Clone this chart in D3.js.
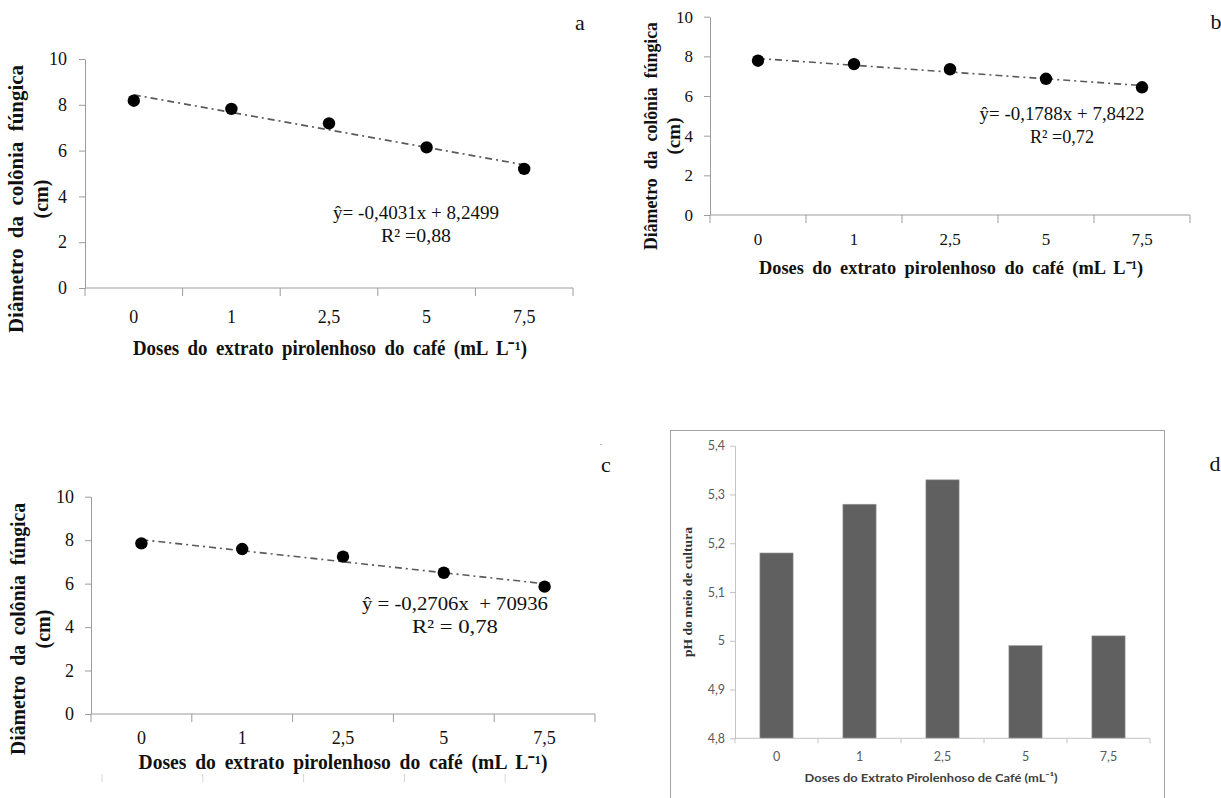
<!DOCTYPE html>
<html>
<head>
<meta charset="utf-8">
<script src="https://cdn.jsdelivr.net/npm/d3@7"></script>
<style>
  body { margin: 0; background: #fff; }
  svg { display: block; }
</style>
</head>
<body>
<div id="chart"></div>
<script>
// doses of coffee pyroligneous extract (mL L-1)
const doses = ['0', '1', '2,5', '5', '7,5']
// fungal colony diameter (cm), panels a, b, c
const diamA = [8.18, 7.82, 7.19, 6.14, 5.2]
const diamB = [7.78, 7.61, 7.35, 6.87, 6.44]
const diamC = [7.85, 7.59, 7.24, 6.5, 5.86]
const yTicksDiam = [0, 2, 4, 6, 8, 10]
// pH of the culture medium, panel d
const phD = [5.18, 5.28, 5.33, 4.99, 5.01]
const yTicksPh = [4.8, 4.9, 5, 5.1, 5.2, 5.3, 5.4]
// regression labels as printed
const eqA = ['ŷ= -0,4031x + 8,2499', 'R² =0,88']
const eqB = ['ŷ= -0,1788x + 7,8422', 'R² =0,72']
const eqC = ['ŷ = -0,2706x  + 70936', 'R² = 0,78']

const serif = '"Liberation Serif", "Times New Roman", serif'
const sans = 'Lato, "Open Sans", sans-serif'
const comma = d => String(d).replace('.', ',')

const svg = d3.select('#chart').append('svg')
  .attr('width', 1221)
  .attr('height', 798)

function scatterPanel(values, eq, o) {
  const x = d3.scaleBand().domain(doses).range([o.left, o.right])
  const y = d3.scaleLinear().domain([0, 10]).range([o.bottom, o.top])
  const bw = x.bandwidth()
  const cx = d => x(d) + bw / 2
  const g = svg.append('g')
  const axisColor = '#9c9c9c'

  const ya = g.append('g')
    .attr('transform', `translate(${o.left},0)`)
    .call(d3.axisLeft(y).tickValues(yTicksDiam).tickSizeInner(6).tickSizeOuter(0)
      .tickPadding(o.yPad).tickFormat(comma))
  ya.select('.domain').attr('stroke', axisColor)
  ya.selectAll('.tick line').attr('stroke', axisColor)
  ya.selectAll('text')
    .attr('font-family', serif)
    .attr('font-size', o.font)
    .attr('fill', '#111')

  // x axis with ticks on the category boundaries
  const bounds = doses.map(d => x(d)).concat([x.range()[1]])
  g.append('line')
    .attr('x1', o.left).attr('x2', o.right)
    .attr('y1', o.bottom).attr('y2', o.bottom)
    .attr('stroke', axisColor)
  g.selectAll('.xb').data(bounds).join('line')
    .attr('x1', d => d).attr('x2', d => d)
    .attr('y1', o.bottom).attr('y2', o.bottom + 8)
    .attr('stroke', axisColor)
  g.selectAll('.xl').data(doses).join('text')
    .attr('x', cx)
    .attr('y', o.bottom + o.xPad)
    .attr('dy', '0.35em')
    .attr('text-anchor', 'middle')
    .attr('font-family', serif)
    .attr('font-size', o.font)
    .attr('fill', '#111')
    .text(d => d)

  // least squares trend line over the category index
  const idx = values.map((v, i) => i + 1)
  const mx = d3.mean(idx)
  const my = d3.mean(values)
  const m = d3.sum(idx, (k, i) => (k - mx) * (values[i] - my)) / d3.sum(idx, k => (k - mx) ** 2)
  const b = my - m * mx
  const ends = [0, doses.length - 1]
  g.append('path')
    .datum(ends)
    .attr('d', d3.line().x(i => cx(doses[i])).y(i => y(b + m * (i + 1))))
    .attr('fill', 'none')
    .attr('stroke', '#5a5a5a')
    .attr('stroke-width', 1.6)
    .attr('stroke-dasharray', '7,4,2,4')

  g.selectAll('.pt').data(values).join('circle')
    .attr('cx', (v, i) => cx(doses[i]))
    .attr('cy', v => y(v))
    .attr('r', 6.2)
    .attr('fill', '#000')

  g.selectAll('.eq').data(eq).join('text')
    .attr('x', o.eqX)
    .attr('y', (d, i) => o.eqY + i * 23)
    .attr('dy', '0.35em')
    .attr('text-anchor', 'middle')
    .attr('font-family', serif)
    .attr('font-size', 19)
    .attr('textLength', (d, i) => o.eqLen[i])
    .attr('lengthAdjust', 'spacingAndGlyphs')
    .attr('fill', '#111')
    .style('white-space', 'pre')
    .text(d => d)

  g.append('text')
    .attr('x', o.titleX)
    .attr('y', o.titleY)
    .attr('dy', '0.35em')
    .attr('text-anchor', 'middle')
    .attr('font-family', serif)
    .attr('font-weight', 'bold')
    .attr('font-size', o.titleFont)
    .attr('textLength', o.titleLen)
    .attr('lengthAdjust', 'spacingAndGlyphs')
    .attr('word-spacing', 4)
    .attr('fill', '#111')
    .text('Doses do extrato pirolenhoso do café (mL L⁻¹)')

  const yl = g.append('g')
  yl.append('text')
    .attr('transform', `translate(${o.yt1},${o.ytC}) rotate(-90)`)
    .attr('text-anchor', 'middle')
    .attr('dominant-baseline', 'central')
    .attr('font-family', serif)
    .attr('font-weight', 'bold')
    .attr('font-size', o.titleFont)
    .attr('textLength', o.ytLen)
    .attr('lengthAdjust', 'spacingAndGlyphs')
    .attr('word-spacing', 5)
    .attr('fill', '#111')
    .text('Diâmetro da colônia fúngica')
  yl.append('text')
    .attr('transform', `translate(${o.yt2},${o.ytC}) rotate(-90)`)
    .attr('text-anchor', 'middle')
    .attr('dominant-baseline', 'central')
    .attr('font-family', serif)
    .attr('font-weight', 'bold')
    .attr('font-size', o.titleFont)
    .attr('fill', '#111')
    .text('(cm)')

  return { x, y, g, bounds }
}

scatterPanel(diamA, eqA, {
  left: 85, right: 573, top: 59, bottom: 288, yPad: 12, xPad: 29, font: 18,
  eqX: 416, eqY: 212, eqLen: [166, 70], titleX: 330, titleY: 348, titleLen: 394, titleFont: 20,
  yt1: 16, yt2: 41, ytC: 199, ytLen: 268
})

scatterPanel(diamB, eqB, {
  left: 710, right: 1190, top: 16.7, bottom: 215, yPad: 11, xPad: 24, font: 17,
  eqX: 1062, eqY: 113, eqLen: [165, 64], titleX: 951, titleY: 267, titleLen: 384, titleFont: 19,
  yt1: 650, yt2: 673, ytC: 136, ytLen: 228
})

const pc = scatterPanel(diamC, eqC, {
  left: 91, right: 595, top: 496.7, bottom: 714, yPad: 11, xPad: 24, font: 18,
  eqX: 455, eqY: 603, eqLen: [186, 86], titleX: 343, titleY: 762, titleLen: 409, titleFont: 20,
  yt1: 18, yt2: 43, ytC: 629, ytLen: 252
})
// faint leftover tick marks under panel c
pc.g.selectAll('.ghost').data(pc.bounds.slice(0, 5)).join('line')
  .attr('x1', d => d + 11).attr('x2', d => d + 11)
  .attr('y1', 774).attr('y2', 782)
  .attr('stroke', '#d4d4d4')

// panel d: bar chart of pH
const gd = svg.append('g')
gd.append('rect')
  .attr('x', 670.5).attr('y', 430.5)
  .attr('width', 494).attr('height', 400)
  .attr('fill', 'none')
  .attr('stroke', '#a3a3a3')
const xd = d3.scaleBand().domain(doses).range([735, 1150]).paddingInner(0.6).paddingOuter(0.3)
const yd = d3.scaleLinear().domain([4.8, 5.4]).range([738.3, 445.7])
const dColor = '#c4c4c4'

gd.selectAll('.bar').data(phD).join('rect')
  .attr('x', (v, i) => xd(doses[i]))
  .attr('y', v => yd(v))
  .attr('width', xd.bandwidth())
  .attr('height', v => yd(4.8) - yd(v))
  .attr('fill', '#606060')
  .attr('stroke', '#9a9a9a')
  .attr('stroke-width', 0.6)

const yda = gd.append('g')
  .attr('transform', 'translate(735,0)')
  .call(d3.axisLeft(yd).tickValues(yTicksPh).tickSizeInner(5).tickSizeOuter(0)
    .tickPadding(5).tickFormat(comma))
yda.select('.domain').attr('stroke', dColor)
yda.selectAll('.tick line').attr('stroke', dColor)
yda.selectAll('text')
  .attr('font-family', sans)
  .attr('font-size', 12.5)
  .attr('fill', '#595959')

// category boundaries on the pH axis
const dEdges = doses.map(d => xd(d) - xd.step() * xd.paddingOuter()).concat([xd.range()[1]])
gd.append('line')
  .attr('x1', 735).attr('x2', 1150)
  .attr('y1', yd(4.8)).attr('y2', yd(4.8))
  .attr('stroke', dColor)
gd.selectAll('.dt').data(dEdges).join('line')
  .attr('x1', d => d).attr('x2', d => d)
  .attr('y1', yd(4.8)).attr('y2', yd(4.8) + 5)
  .attr('stroke', dColor)
gd.selectAll('.dl').data(doses).join('text')
  .attr('x', d => xd(d) + xd.bandwidth() / 2)
  .attr('y', 757)
  .attr('dy', '0.35em')
  .attr('text-anchor', 'middle')
  .attr('font-family', sans)
  .attr('font-size', 12.5)
  .attr('fill', '#595959')
  .text(d => d)
gd.append('text')
  .attr('x', 931)
  .attr('y', 778)
  .attr('dy', '0.35em')
  .attr('text-anchor', 'middle')
  .attr('font-family', sans)
  .attr('font-weight', 'bold')
  .attr('font-size', 12)
  .attr('textLength', 253)
  .attr('lengthAdjust', 'spacingAndGlyphs')
  .attr('fill', '#404040')
  .text('Doses do Extrato Pirolenhoso de Café (mL⁻¹)')
gd.append('text')
  .attr('transform', 'translate(687,592) rotate(-90)')
  .attr('text-anchor', 'middle')
  .attr('dominant-baseline', 'central')
  .attr('font-family', serif)
  .attr('font-weight', 'bold')
  .attr('font-size', 13)
  .attr('textLength', 130)
  .attr('lengthAdjust', 'spacingAndGlyphs')
  .attr('fill', '#333')
  .text('pH do meio de cultura')

// panel letters
const letters = [['a', 580, 22], ['b', 1216, 21], ['c', 606, 464], ['d', 1215, 463]]
svg.selectAll('.letter').data(letters).join('text')
  .attr('x', d => d[1])
  .attr('y', d => d[2])
  .attr('dy', '0.35em')
  .attr('text-anchor', 'middle')
  .attr('font-family', serif)
  .attr('font-size', 22)
  .attr('fill', '#111')
  .text(d => d[0])
svg.append('text')
  .attr('x', 601).attr('y', 445)
  .attr('text-anchor', 'middle')
  .attr('font-family', serif)
  .attr('font-size', 10)
  .attr('fill', '#777')
  .text('.')
</script>
</body>
</html>
